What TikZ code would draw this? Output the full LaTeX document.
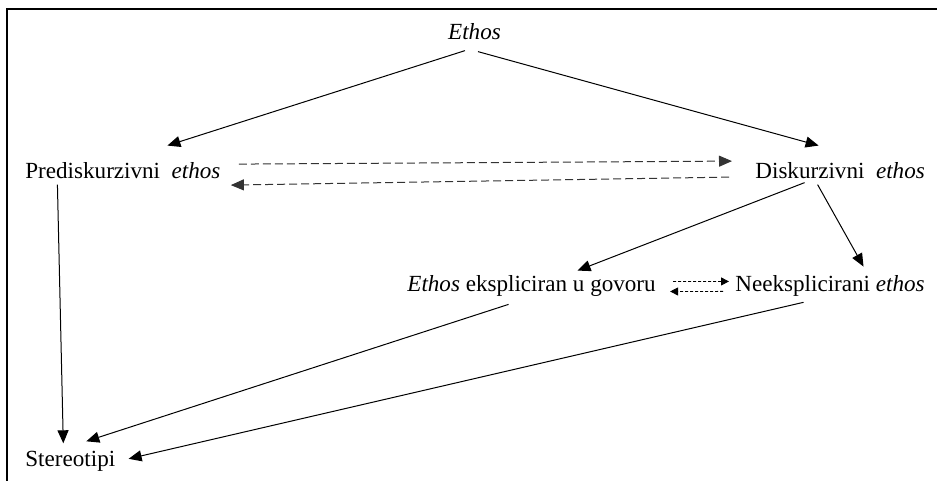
\documentclass[tikz,border=0pt]{standalone}
\usepackage{fontspec}
\setmainfont{Liberation Serif}
\usetikzlibrary{arrows.meta}

\begin{document}
\begin{tikzpicture}[x=0.5pt,y=-0.5pt,
            label/.style={inner sep=0pt,font=\fontsize{11.55pt}{14pt}\selectfont},
            link/.style={line width=0.5pt,-{Triangle[length=6.5pt,width=5.5pt]}},
            back/.style={link,dashed,dash pattern=on 4pt off 2pt,draw=black!80},
            hint/.style={line width=0.45pt,dash pattern=on 1.5pt off 1pt,-{Triangle[length=4pt,width=4pt]}}]
            \useasboundingbox (0,0) rectangle (937,481);
            \draw [line width=0.75pt] (7,481) -- (7,9) -- (937,9);
            \node [label,anchor=base] (ethos) at (474.5,40) {\textit{Ethos}};
            \node [label,anchor=base west] (pred) at (25,178) {Prediskurzivni\ \ \textit{ethos}};
            \node [label,anchor=base west] (disk) at (755,178) {Diskurzivni\ \ \textit{ethos}};
            \node [label,anchor=base west] (expl) at (407,291) {\textit{Ethos} ekspliciran u govoru};
            \node [label,anchor=base west] (neexpl) at (735,291) {Neeksplicirani \textit{ethos}};
            \node [label,anchor=base west] (stereo) at (25,466) {Stereotipi};
            \draw [link] ([shift={(-9.5,10)}]ethos.south) -- ([shift={(44.5,-16)}]pred.north);
            \draw [link] ([shift={(3.5,11)}]ethos.south) -- ([shift={(-21.5,-16)}]disk.north);
            \draw [back] ([shift={(18,-6)}]pred.east) -- ([shift={(-23,-9)}]disk.west);
            \draw [back] ([shift={(-26,7)}]disk.west) -- ([shift={(10,15)}]pred.east);
            \draw [link] ([shift={(-35.5,4)}]disk.south) -- ([shift={(46,-4)}]expl.north);
            \draw [link] ([shift={(-22.5,6)}]disk.south) -- ([shift={(33.5,-8)}]neexpl.north);
            \draw [hint] ([shift={(17,-4)}]expl.east) -- ([shift={(-6,-4)}]neexpl.west);
            \draw [hint] ([shift={(-12,6)}]neexpl.west) -- ([shift={(14,6)}]expl.east);
            \draw [link] ([shift={(-65.5,6)}]pred.south) -- ([shift={(-7,-7)}]stereo.north);
            \draw [link] ([shift={(-23,8)}]expl.south) -- ([shift={(16,-9)}]stereo.north);
            \draw [link] ([shift={(-26.5,6)}]neexpl.south) -- ([shift={(13,-2)}]stereo.east);
        \end{tikzpicture}
\end{document}
